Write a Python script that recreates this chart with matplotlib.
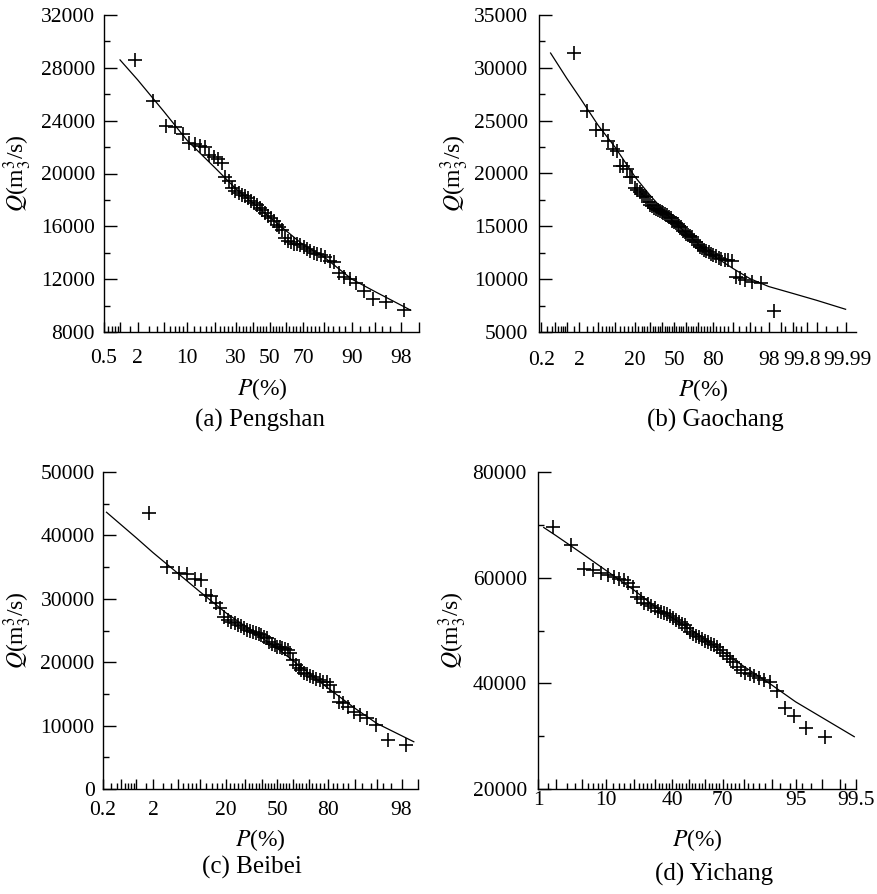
from statistics import NormalDist

import numpy as np
import matplotlib
matplotlib.use("Agg")
import matplotlib.pyplot as plt
from matplotlib.transforms import ScaledTranslation

plt.rcParams["font.family"] = "Liberation Serif"
plt.rcParams["mathtext.fontset"] = "stix"

# ---- data (P in %, Q in m3/s) ----
PENGSHAN_P = [1.8, 3.5, 5.3, 7.0, 8.8, 10.5, 12.3, 14.0, 15.8, 17.5,
              19.3, 21.1, 22.8, 24.6, 26.3, 28.1, 29.8, 31.6, 33.3, 35.1,
              36.8, 38.6, 40.4, 42.1, 43.9, 45.6, 47.4, 49.1, 50.9, 52.6,
              54.4, 56.1, 57.9, 59.6, 61.4, 63.2, 64.9, 66.7, 68.4, 70.2,
              71.9, 73.7, 75.4, 77.2, 78.9, 80.7, 82.5, 84.2, 86.0, 87.7,
              89.5, 91.2, 93.0, 94.7, 96.5, 98.2]
PENGSHAN_Q = [28600, 25500, 23600, 23500, 23000, 22300, 22200, 22100, 22000, 21400,
              21250, 21100, 20800, 19750, 19400, 18900, 18700, 18550, 18400, 18300,
              18150, 17950, 17800, 17600, 17400, 17200, 17000, 16750, 16600, 16400,
              16100, 15950, 15700, 15100, 14900, 14800, 14700, 14650, 14550, 14400,
              14250, 14100, 14000, 13900, 13800, 13700, 13400, 13300, 12500, 12200,
              12000, 11700, 11100, 10500, 10300, 9700]
PENGSHAN_FIT_P = [1.0, 2, 5, 10, 20, 30, 50, 70, 80, 90, 95, 98.6]
PENGSHAN_FIT_Q = [28600, 27100, 24700, 22500, 20400, 18850, 16700, 14600, 13700, 12000, 11050, 9650]

GAOCHANG_P = [1.5, 3.0, 4.5, 6.1, 7.6, 9.1, 10.6, 12.1, 13.6, 15.2,
              16.7, 18.2, 19.7, 21.2, 22.7, 24.2, 25.8, 27.3, 28.8, 30.3,
              31.8, 33.3, 34.8, 36.4, 37.9, 39.4, 40.9, 42.4, 43.9, 45.5,
              47.0, 48.5, 50.0, 51.5, 53.0, 54.5, 56.1, 57.6, 59.1, 60.6,
              62.1, 63.6, 65.2, 66.7, 68.2, 69.7, 71.2, 72.7, 74.2, 75.8,
              77.3, 78.8, 80.3, 81.8, 83.3, 84.8, 86.4, 87.9, 89.4, 90.9,
              92.4, 93.9, 95.5, 97.0, 98.5]
GAOCHANG_Q = [31400, 25900, 24150, 24150, 23100, 22350, 22100, 20700, 20700, 20450,
              19650, 19650, 18600, 18400, 18250, 18100, 17900, 17800, 17300, 17050,
              16900, 16750, 16650, 16550, 16450, 16350, 16250, 16150, 16050, 15900,
              15750, 15550, 15400, 15300, 15200, 15050, 14900, 14600, 14450, 14300,
              14200, 14050, 13950, 13750, 13500, 13200, 13050, 12950, 12800, 12650,
              12550, 12400, 12300, 12150, 12000, 11900, 11850, 11800, 11700, 10200,
              10150, 9950, 9750, 9650, 7000]
GAOCHANG_FIT_P = [0.37, 1, 2, 5, 10, 20, 30, 50, 70, 80, 90, 95, 98, 99.5, 99.9, 99.99]
GAOCHANG_FIT_Q = [31400, 29000, 27250, 24550, 22500, 19650, 17950, 15400, 13350, 12250,
                  11000, 10050, 9300, 8650, 8000, 7150]

BEIBEI_P = [1.7, 3.4, 5.2, 6.9, 8.6, 10.3, 12.1, 13.8, 15.5, 17.2,
            19.0, 20.7, 22.4, 24.1, 25.9, 27.6, 29.3, 31.0, 32.8, 34.5,
            36.2, 37.9, 39.7, 41.4, 43.1, 44.8, 46.6, 48.3, 50.0, 51.7,
            53.4, 55.2, 56.9, 58.6, 60.3, 62.1, 63.8, 65.5, 67.2, 69.0,
            70.7, 72.4, 74.1, 75.9, 77.6, 79.3, 81.0, 82.8, 84.5, 86.2,
            87.9, 89.7, 91.4, 93.1, 94.8, 96.6, 98.3]
BEIBEI_Q = [43600, 35000, 34050, 33950, 33100, 32900, 30650, 30450, 29300, 28550,
            27200, 26700, 26400, 26150, 25900, 25650, 25350, 25100, 24950, 24750,
            24600, 24450, 24300, 24050, 23800, 23250, 22900, 22650, 22450, 22350,
            22200, 22050, 21850, 21400, 20350, 19600, 19050, 18700, 18350, 18100,
            17850, 17650, 17350, 17200, 16950, 16800, 16400, 15350, 13650, 13550,
            13000, 12200, 11700, 11150, 10100, 7650, 6950]
BEIBEI_FIT_P = [0.24, 1, 2, 5, 10, 20, 30, 50, 70, 80, 90, 95, 98.8]
BEIBEI_FIT_Q = [43650, 39600, 37300, 34050, 31150, 27750, 25650, 22200, 18250, 15900,
                12750, 10350, 7450]

YICHANG_P = [1.8, 3.5, 5.3, 7.0, 8.8, 10.5, 12.3, 14.0, 15.8, 17.5,
             19.3, 21.1, 22.8, 24.6, 26.3, 28.1, 29.8, 31.6, 33.3, 35.1,
             36.8, 38.6, 40.4, 42.1, 43.9, 45.6, 47.4, 49.1, 50.9, 52.6,
             54.4, 56.1, 57.9, 59.6, 61.4, 63.2, 64.9, 66.7, 68.4, 70.2,
             71.9, 73.7, 75.4, 77.2, 78.9, 80.7, 82.5, 84.2, 86.0, 87.7,
             89.5, 91.2, 93.0, 94.7, 96.5, 98.2]
YICHANG_Q = [69500, 66100, 61700, 61400, 60900, 60500, 60150, 59800, 59500, 58900,
             58300, 56400, 55900, 55200, 55000, 54700, 54200, 53700, 53500, 53300,
             53100, 52700, 52300, 52000, 51600, 51300, 51000, 50400, 49750, 49300,
             48900, 48700, 48400, 48050, 47850, 47500, 47200, 46900, 46300, 45650,
             45150, 44700, 44100, 43100, 42500, 42050, 41700, 41400, 41100, 40600,
             40300, 38600, 35250, 33800, 31500, 29900]
YICHANG_FIT_P = [1.26, 2, 5, 10, 20, 30, 50, 70, 80, 90, 95, 99.46]
YICHANG_FIT_Q = [69500, 68000, 64550, 61400, 57600, 54500, 50400, 45950, 43250, 39650, 36500, 29900]

# tick labels on the probability axis
PENGSHAN_XLABELS = [0.5, 2, 10, 30, 50, 70, 90, 98]
GAOCHANG_XLABELS = [0.2, 2, 20, 50, 80, 98, 99.8, 99.99]
BEIBEI_XLABELS = [0.2, 2, 20, 50, 80, 98]
YICHANG_XLABELS = [1, 10, 40, 70, 95, 99.5]

LONG_TICKS = [0.2, 0.5, 1, 2, 5, 10, 20, 30, 40, 50, 60, 70, 80, 90, 95, 98, 99,
              99.5, 99.8, 99.9, 99.99]
SHORT_TICKS = ([0.3, 0.4, 0.6, 0.7, 0.8, 0.9, 1.5, 3, 4, 6, 7, 8, 9]
               + [v for v in range(12, 90, 2) if v % 10]
               + [92, 94, 96, 97, 99.2, 99.6, 99.7, 99.95, 99.98])

_nd = NormalDist()


def _fwd(p):
    p = np.clip(np.asarray(p, dtype=float), 1e-7, 100 - 1e-7)
    return np.vectorize(lambda v: _nd.inv_cdf(v / 100.0), otypes=[float])(p)


def _inv(z):
    z = np.asarray(z, dtype=float)
    return np.vectorize(lambda v: _nd.cdf(v) * 100.0, otypes=[float])(z)


def px_rect(left, top, right, bottom, W=877, H=894):
    return [left / W, 1 - bottom / H, (right - left) / W, (bottom - top) / H]


def draw_panel(ax, p, q, fit_p, fit_q, xlim, ylim, ystep, xlabels, xpad, ypad):
    ax.set_xscale("function", functions=(_fwd, _inv))
    ax.plot(fit_p, fit_q, color="black", lw=0.9)
    ax.plot(p, q, ls="none", marker="+", ms=10.5, mew=1.2, color="black", clip_on=False)
    ax.set_xlim(*xlim)
    ax.set_ylim(*ylim)

    lo, hi = xlim
    major = sorted(set([v for v in LONG_TICKS if lo - 1e-9 <= v <= hi + 1e-9] + xlabels))
    minor = [v for v in SHORT_TICKS if lo < v < hi and v not in major]
    ax.set_xticks(major, labels=[f"{v:g}" if v in xlabels else "" for v in major])
    ax.set_xticks(minor, minor=True)
    ax.set_yticks(np.arange(ylim[0], ylim[1] + 1, ystep))
    ax.set_yticks(np.arange(ylim[0] + ystep / 2, ylim[1], ystep), minor=True)

    ax.tick_params(axis="x", which="major", direction="in", length=7.5, width=1.0,
                   pad=xpad, labelsize=15.5)
    ax.tick_params(axis="x", which="minor", direction="in", length=4, width=1.0)
    ax.tick_params(axis="y", which="major", direction="in", length=9.5, width=1.0,
                   pad=ypad, labelsize=15.5)
    ax.tick_params(axis="y", which="minor", direction="in", length=4.5, width=1.0)
    for side in ("top", "right"):
        ax.spines[side].set_visible(False)
    for side in ("left", "bottom"):
        ax.spines[side].set_linewidth(1.0)
    return major


fig = plt.figure(figsize=(8.77, 8.94), dpi=100)

ax_a = fig.add_axes(px_rect(104, 15, 419, 332))
ax_b = fig.add_axes(px_rect(539, 15, 856, 332))
ax_c = fig.add_axes(px_rect(103, 472, 418, 789))
ax_d = fig.add_axes(px_rect(538, 472, 856, 789))

draw_panel(ax_a, PENGSHAN_P, PENGSHAN_Q, PENGSHAN_FIT_P, PENGSHAN_FIT_Q,
           (0.5, 99), (8000, 32000), 4000, PENGSHAN_XLABELS, 12.5, 6.5)
b_major = draw_panel(ax_b, GAOCHANG_P, GAOCHANG_Q, GAOCHANG_FIT_P, GAOCHANG_FIT_Q,
                     (0.17, 99.996), (5000, 35000), 5000, GAOCHANG_XLABELS, 13.5, 8)
draw_panel(ax_c, BEIBEI_P, BEIBEI_Q, BEIBEI_FIT_P, BEIBEI_FIT_Q,
           (0.2, 99), (0, 50000), 10000, BEIBEI_XLABELS, 8.5, 6)
draw_panel(ax_d, YICHANG_P, YICHANG_Q, YICHANG_FIT_P, YICHANG_FIT_Q,
           (1, 99.5), (20000, 80000), 20000, YICHANG_XLABELS, 1.5, 8)

# the two crowded labels at the right end of (b) sit edge to edge, as in the source
for lab, v in zip(ax_b.get_xticklabels(), b_major):
    if v == 99.8:
        lab.set_transform(lab.get_transform() + ScaledTranslation(-0.045, 0, fig.dpi_scale_trans))
    elif v == 99.99:
        lab.set_transform(lab.get_transform() + ScaledTranslation(0.02, 0, fig.dpi_scale_trans))


def ftext(x, y, s, **kw):
    fig.text(x / 877, 1 - y / 894, s, ha="center", va="center", **kw)


ylab = r"$Q$(m$^3_3$/s)"
for x, y in [(18, 173), (455, 173), (18, 630), (453, 630)]:
    ftext(x, y, ylab, fontsize=17, rotation=90)
for x, y in [(262, 389), (703, 390), (260, 840), (697, 840)]:
    ftext(x, y, r"$P$(%)", fontsize=17)
for x, y, s in [(260, 420, "(a) Pengshan"), (715, 420, "(b) Gaochang"),
                (252, 867, "(c) Beibei"), (714, 874, "(d) Yichang")]:
    ftext(x, y, s, fontsize=18)

fig.savefig("out.png", dpi=100)
